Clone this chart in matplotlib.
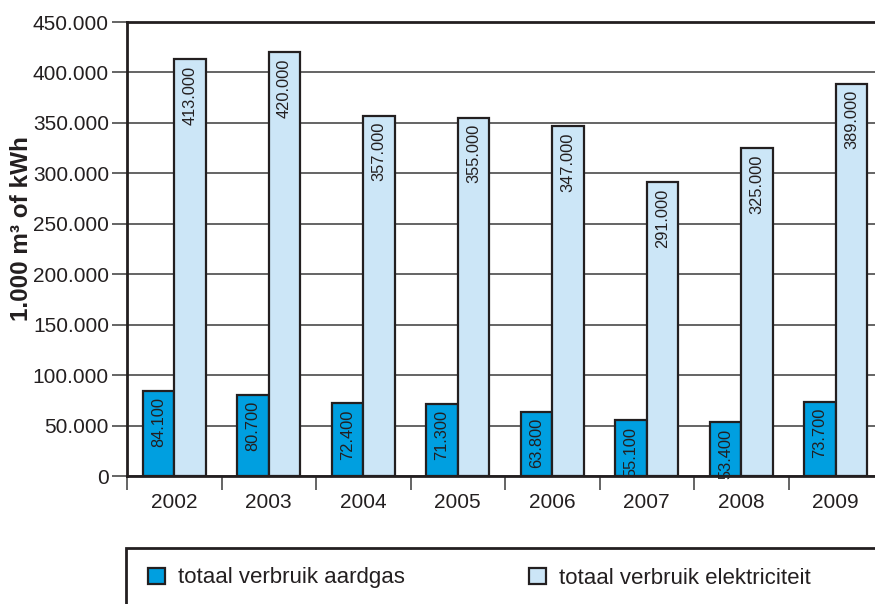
import matplotlib
matplotlib.use("Agg")
import matplotlib.pyplot as plt
from matplotlib.patches import Rectangle
from matplotlib.ticker import FuncFormatter, FixedLocator
import numpy as np

plt.rcParams['font.family'] = ['Liberation Sans', 'DejaVu Sans']

years = ['2002', '2003', '2004', '2005', '2006', '2007', '2008', '2009']
aardgas = [84100, 80700, 72400, 71300, 63800, 55100, 53400, 73700]
elektriciteit = [413000, 420000, 357000, 355000, 347000, 291000, 325000, 389000]
labels_series = ['totaal verbruik aardgas', 'totaal verbruik elektriciteit']
yticks = list(range(0, 450001, 50000))

c_gas = '#009FE0'
c_el = '#CCE6F7'
edge = '#231F20'

W, H = 875, 604
fig = plt.figure(figsize=(W / 100, H / 100), dpi=100)
left, right, top, bottom = 127, 883, 22, 476
ax = fig.add_axes([left / W, 1 - bottom / H, (right - left) / W, (bottom - top) / H])

x = np.arange(len(years))
bw = 0.335
b1 = ax.bar(x - bw / 2, aardgas, width=bw, color=c_gas, edgecolor=edge, linewidth=1.6,
            label=labels_series[0], zorder=3)
b2 = ax.bar(x + bw / 2, elektriciteit, width=bw, color=c_el, edgecolor=edge, linewidth=1.6,
            label=labels_series[1], zorder=3)

def fmt(v):
    return f"{int(v):,}".replace(',', '.')

for bars, vals in ((b1, aardgas), (b2, elektriciteit)):
    for rect, v in zip(bars, vals):
        ax.annotate(fmt(v), (rect.get_x() + rect.get_width() / 2, v),
                    xytext=(0, -4.5), textcoords='offset points',
                    rotation=90, ha='center', va='top', fontsize=11.8,
                    color=edge, zorder=4)

ax.set_xlim(-0.5, len(years) - 0.5)
ax.set_ylim(0, 450000)
ax.yaxis.set_major_locator(FixedLocator(yticks))
ax.yaxis.set_major_formatter(FuncFormatter(lambda v, p: fmt(v)))
ax.grid(axis='y', color='#3a3a3a', linewidth=1.1, zorder=0)

ax.set_xticks(x)
ax.set_xticklabels(years, fontsize=15, color=edge)
ax.tick_params(axis='x', which='major', length=0, pad=12)
ax.set_xticks(np.arange(len(years)) - 0.5, minor=True)
ax.tick_params(axis='x', which='minor', length=10, width=1.1, color='#3a3a3a', direction='out')
ax.tick_params(axis='y', length=11, width=1.1, color='#3a3a3a', labelsize=15,
               labelcolor=edge, pad=2)

for s in ['left', 'top', 'bottom']:
    ax.spines[s].set_linewidth(2)
    ax.spines[s].set_color(edge)
ax.spines['right'].set_visible(False)

ax.set_ylabel('1.000 m³ of kWh', fontsize=17.5, fontweight='bold', color=edge)
ax.yaxis.set_label_coords(-0.124, 0.545)

# legend frame
fig.patches.append(Rectangle((126 / W, -0.1), 1.0, 1 - 548 / H + 0.1, transform=fig.transFigure,
                             fill=False, edgecolor=edge, linewidth=2))
leg = fig.legend(handles=[b1, b2], labels=labels_series, loc='center left',
                 bbox_to_anchor=(148 / W, 1 - 578 / H), ncol=2, frameon=False,
                 fontsize=16, handlelength=0.75, handleheight=0.75,
                 handletextpad=0.6, columnspacing=5.6, borderpad=0, borderaxespad=0)
for t in leg.get_texts():
    t.set_color(edge)

fig.savefig('out.png', dpi=100)
